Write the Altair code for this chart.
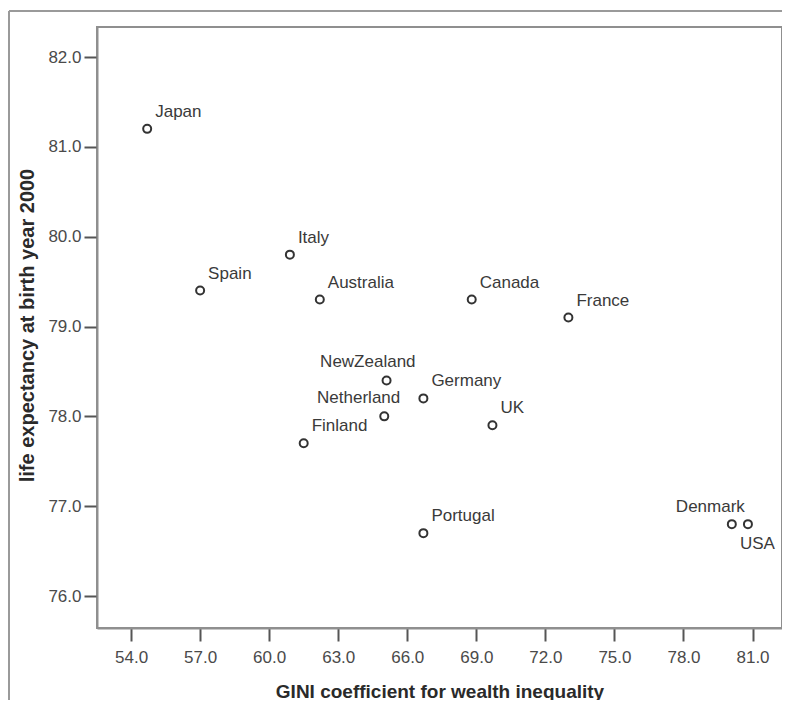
import altair as alt
import pandas as pd

countries = ["Japan", "Spain", "Italy", "Australia", "Canada", "France",
             "NewZealand", "Germany", "Netherland", "UK", "Finland",
             "Portugal", "Denmark", "USA"]
gini = [54.7, 57.0, 60.9, 62.2, 68.8, 73.0, 65.1, 66.7, 65.0, 69.7, 61.5,
        66.7, 80.1, 80.8]
life_exp = [81.2, 79.4, 79.8, 79.3, 79.3, 79.1, 78.4, 78.2, 78.0, 77.9, 77.7,
            76.7, 76.8, 76.8]
x_ticks = [54, 57, 60, 63, 66, 69, 72, 75, 78, 81]
y_ticks = [76, 77, 78, 79, 80, 81, 82]

df = pd.DataFrame({"country": countries, "gini": gini, "life": life_exp})

FONT = "Liberation Sans"
TEXT = "#3a3a3a"

x_enc = alt.X("gini:Q",
              scale=alt.Scale(domain=[52.52, 82.28], nice=False, zero=False),
              axis=alt.Axis(values=x_ticks, format=".1f",
                            title="GINI coefficient for wealth inequality",
                            titleY=69, titleBaseline="alphabetic",
                            titleFontSize=19, labelPadding=8))
y_enc = alt.Y("life:Q",
              scale=alt.Scale(domain=[75.644, 82.334], nice=False, zero=False),
              axis=alt.Axis(values=y_ticks, format=".1f",
                            title="life expectancy at birth year 2000",
                            titleX=-64, titleY=298, titleAngle=270,
                            titleAlign="center", titleBaseline="alphabetic",
                            titleFontSize=20, labelPadding=3))

base = alt.Chart(df).encode(x=x_enc, y=y_enc)

points = base.mark_point(shape="circle", filled=False, size=64,
                         strokeWidth=2, color="#333333", opacity=1)

txt = dict(font=FONT, fontSize=17, color=TEXT, baseline="alphabetic")

special = ["NewZealand", "Netherland", "Denmark", "USA"]
main_labels = base.mark_text(align="left", dx=8, dy=-12, **txt).encode(
    text="country:N").transform_filter(
    "indexof(['NewZealand','Netherland','Denmark','USA'], datum.country) < 0")
nz = base.mark_text(align="right", dx=29, dy=-13, **txt).encode(
    text="country:N").transform_filter("datum.country == 'NewZealand'")
nl = base.mark_text(align="right", dx=16, dy=-13, **txt).encode(
    text="country:N").transform_filter("datum.country == 'Netherland'")
dk = base.mark_text(align="right", dx=13, dy=-12, **txt).encode(
    text="country:N").transform_filter("datum.country == 'Denmark'")
us = base.mark_text(align="left", dx=-8, dy=25, **txt).encode(
    text="country:N").transform_filter("datum.country == 'USA'")

one = alt.Chart(pd.DataFrame({"a": [0]}))
border_left = one.mark_rule(color="#9a9a9a", strokeWidth=2).encode(
    x=alt.value(-88), y=alt.value(-16), y2=alt.value(700))
border_top = one.mark_rule(color="#9a9a9a", strokeWidth=2).encode(
    x=alt.value(-88), x2=alt.value(720), y=alt.value(-16))

chart = alt.layer(border_left, border_top, points, main_labels, nz, nl, dk, us).properties(
    width=685, height=601,
    autosize=alt.AutoSizeParams(type="none"),
    padding={"left": 89, "top": 19, "right": 0, "bottom": 72},
    background="white",
).configure_view(
    stroke="#8f8f8f", strokeWidth=2
).configure_axis(
    grid=False,
    domainColor="#8f8f8f", domainWidth=2,
    tickColor="#555555", tickWidth=2, tickSize=13,
    labelFont=FONT, labelFontSize=17, labelColor="#4a4a4a",
    titleFont=FONT, titleFontWeight="bold", titleColor="#2a2a2a",
)

chart.save("out.html", embed_options={"renderer": "svg", "actions": False})
